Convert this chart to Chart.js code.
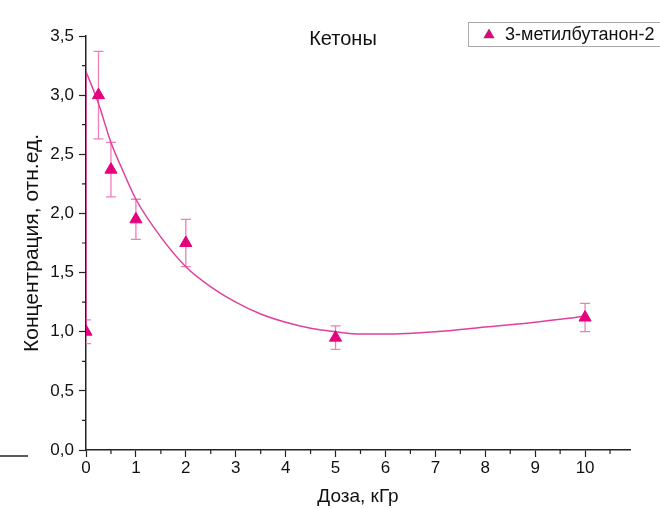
<!DOCTYPE html>
<html>
<head>
<meta charset="utf-8">
<script src="https://cdn.jsdelivr.net/npm/chart.js@4"></script>
<style>
  html, body { margin: 0; padding: 0; background: #fff; }
  #wrap { width: 660px; height: 509px; }
</style>
</head>
<body>
<div id="wrap"><canvas id="myChart"></canvas></div>
<script>
// measured points (dose, concentration, error)
const doses = [0, 0.25, 0.5, 1, 2, 5, 10];
const conc = [1.0, 3.0, 2.37, 1.95, 1.75, 0.95, 1.12];
const concErr = [0.1, 0.37, 0.23, 0.17, 0.2, 0.1, 0.12];

// fitted curve
const fitX = [0, 0.25, 0.5, 0.75, 1, 1.5, 2, 2.5, 3, 3.5, 4, 4.5, 5, 5.5, 6, 7, 8, 9, 10];
const fitY = [3.2, 2.93, 2.6, 2.35, 2.12, 1.8, 1.55, 1.38, 1.25, 1.15, 1.08, 1.03, 1.0, 0.98, 0.98, 1.0, 1.04, 1.08, 1.13];
// the jump at zero dose
const jumpX = [0, 0];
const jumpY = [1.0, 3.2];

// ticks
const xTicks = [0, 1, 2, 3, 4, 5, 6, 7, 8, 9, 10];
const xMinor = [0.5, 1.5, 2.5, 3.5, 4.5, 5.5, 6.5, 7.5, 8.5, 9.5, 10.5];
const yMinor = [0.25, 0.75, 1.25, 1.75, 2.25, 2.75, 3.25];

const seriesName = "3-метилбутанон-2";
const chartTitle = "Кетоны";

const FONT = "'Liberation Sans', Arial, sans-serif";
const MAGENTA = "#e5007e";
const LINE = "#e0409c";

// error bars, minor ticks, title and legend box
const extras = {
  id: "extras",
  beforeDatasetsDraw(chart) {
    const { ctx, chartArea } = chart;
    const xs = chart.scales.x;
    const ys = chart.scales.y;
    ctx.save();
    ctx.beginPath();
    ctx.rect(chartArea.left, chartArea.top - 10, chartArea.right - chartArea.left, chartArea.bottom - chartArea.top + 20);
    ctx.clip();
    ctx.strokeStyle = "#f07fb9";
    ctx.lineWidth = 1.3;
    doses.forEach((d, i) => {
      const px = xs.getPixelForValue(d);
      const top = ys.getPixelForValue(conc[i] + concErr[i]);
      const bot = ys.getPixelForValue(conc[i] - concErr[i]);
      ctx.beginPath();
      ctx.moveTo(px, top); ctx.lineTo(px, bot);
      ctx.moveTo(px - 5, top); ctx.lineTo(px + 5, top);
      ctx.moveTo(px - 5, bot); ctx.lineTo(px + 5, bot);
      ctx.stroke();
    });
    ctx.restore();
  },
  afterDraw(chart) {
    const { ctx, chartArea } = chart;
    const xs = chart.scales.x;
    const ys = chart.scales.y;
    ctx.save();
    ctx.strokeStyle = "#222";
    ctx.lineWidth = 1.2;
    ctx.beginPath();
    xMinor.forEach(v => {
      const px = xs.getPixelForValue(v);
      ctx.moveTo(px, chartArea.bottom); ctx.lineTo(px, chartArea.bottom + 4);
    });
    yMinor.forEach(v => {
      const py = ys.getPixelForValue(v);
      ctx.moveTo(chartArea.left, py); ctx.lineTo(chartArea.left - 4, py);
    });
    ctx.stroke();

    // stray line at lower left
    ctx.lineWidth = 1.5;
    ctx.beginPath();
    ctx.moveTo(0, 456); ctx.lineTo(28, 456);
    ctx.stroke();

    // title
    ctx.fillStyle = "#111";
    ctx.font = "20px " + FONT;
    ctx.textAlign = "center";
    ctx.textBaseline = "middle";
    ctx.fillText(chartTitle, 343, 39);

    // legend
    ctx.strokeStyle = "#aaa";
    ctx.lineWidth = 1;
    ctx.strokeRect(468.5, 22.5, 200, 24);
    Chart.helpers.drawPoint(ctx, { pointStyle: "triangle", radius: 6, rotation: 0, borderWidth: 1 }, 489, 35);
    ctx.fillStyle = MAGENTA;
    ctx.fill();
    ctx.fillStyle = "#111";
    ctx.font = "18px " + FONT;
    ctx.textAlign = "left";
    ctx.fillText(seriesName, 505, 35);
    ctx.restore();
  }
};

new Chart(document.getElementById("myChart"), {
  type: "scatter",
  data: {
    datasets: [
      {
        label: seriesName,
        data: doses.map((d, i) => ({ x: d, y: conc[i] })),
        pointStyle: "triangle",
        pointRadius: 7,
        pointHoverRadius: 7,
        backgroundColor: MAGENTA,
        borderColor: MAGENTA,
        borderWidth: 1,
      },
      {
        label: "fit",
        data: fitX.map((x, i) => ({ x: x, y: fitY[i] })),
        showLine: true,
        cubicInterpolationMode: "monotone",
        pointRadius: 0,
        borderColor: LINE,
        borderWidth: 1.5,
      },
      {
        label: "jump",
        data: jumpX.map((x, i) => ({ x: x, y: jumpY[i] })),
        showLine: true,
        pointRadius: 0,
        borderColor: LINE,
        borderWidth: 1.5,
      },
    ],
  },
  options: {
    responsive: true,
    maintainAspectRatio: false,
    animation: false,
    layout: { padding: { top: 36, right: 30, left: 0, bottom: 0 } },
    plugins: {
      legend: { display: false },
      tooltip: { enabled: false },
    },
    scales: {
      x: {
        type: "linear",
        min: 0,
        max: 10.9,
        afterBuildTicks: (scale) => { scale.ticks = xTicks.map(v => ({ value: v })); },
        afterFit: (scale) => { scale.height = 59; },
        grid: { drawOnChartArea: false, drawTicks: true, tickLength: 7, color: "#222", tickWidth: 1.2 },
        border: { display: true, color: "#222", width: 1.5 },
        ticks: { color: "#111", padding: 1, maxRotation: 0, font: { family: FONT, size: 17 } },
        title: { display: true, text: "Доза, кГр", color: "#111", padding: { top: 0, bottom: 1 }, font: { family: FONT, size: 19 } },
      },
      y: {
        min: 0,
        max: 3.5,
        afterFit: (scale) => { scale.width = 86; },
        grid: { drawOnChartArea: false, drawTicks: true, tickLength: 7, color: "#222", tickWidth: 1.2 },
        border: { display: true, color: "#222", width: 1.5 },
        ticks: {
          stepSize: 0.5,
          color: "#111",
          padding: 5,
          font: { family: FONT, size: 17 },
          callback: (v) => v.toFixed(1).replace(".", ","),
        },
        title: { display: true, text: "Концентрация, отн.ед.", color: "#111", padding: { top: 20, bottom: 0 }, font: { family: FONT, size: 21 } },
      },
    },
  },
  plugins: [extras],
});
</script>
</body>
</html>
